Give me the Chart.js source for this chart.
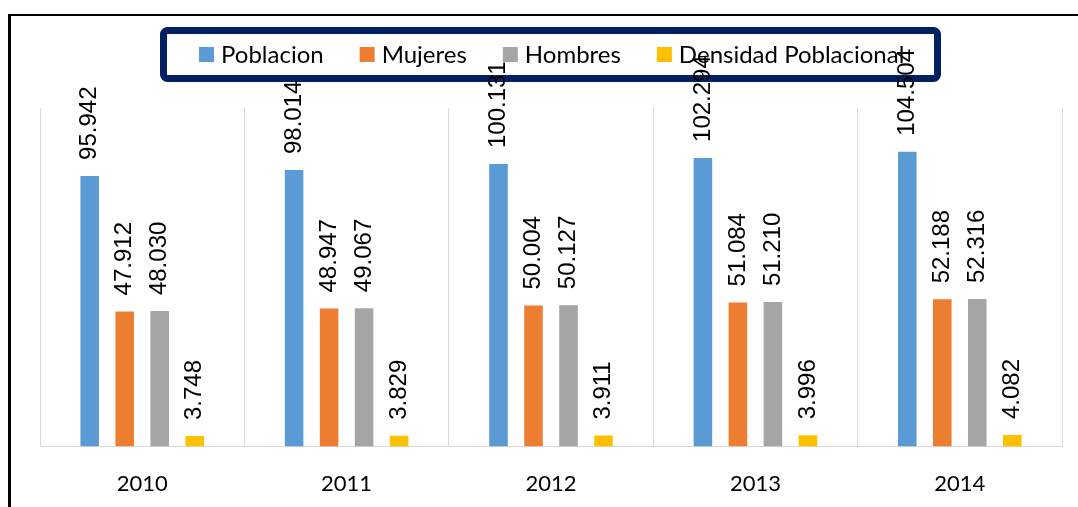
<!DOCTYPE html>
<html>
<head>
<meta charset="utf-8">
<script src="https://cdn.jsdelivr.net/npm/chart.js@4.4.0/dist/chart.umd.min.js"></script>
<style>
html,body{margin:0;padding:0;background:#fff;overflow:hidden;}
#marco{position:absolute;left:8px;top:14px;width:1100px;height:520px;border-left:3px solid #000;border-top:2px solid #000;}
#caja{position:absolute;left:0;top:0;width:1078px;height:507px;}
</style>
</head>
<body>
<div id="marco"></div>
<div id="caja"><canvas id="grafico" width="1078" height="507"></canvas></div>
<script>
// datos
const anios = ["2010", "2011", "2012", "2013", "2014"];
const poblacion = [95942, 98014, 100131, 102294, 104504];
const mujeres = [47912, 48947, 50004, 51084, 52188];
const hombres = [48030, 49067, 50127, 51210, 52316];
const densidad = [3748, 3829, 3911, 3996, 4082];
const nombres = ["Poblacion", "Mujeres", "Hombres", "Densidad Poblacional"];
const colores = ["#5B9BD5", "#ED7D31", "#A5A5A5", "#FFC000"];

function formato(v){
	return String(v).replace(/\B(?=(\d{3})+(?!\d))/g, ".");
}

// etiquetas verticales encima de cada barra
const etiquetas = {
	id: 'etiquetas',
	afterDatasetsDraw: function(chart){
		const ctx = chart.ctx;
		ctx.save();
		ctx.font = '24px "Liberation Sans"';
		ctx.fillStyle = '#000';
		ctx.textAlign = 'left';
		ctx.textBaseline = 'middle';
		chart.data.datasets.forEach(function(ds, i){
			chart.getDatasetMeta(i).data.forEach(function(barra, j){
				ctx.save();
				ctx.translate(barra.x, barra.y - 16);
				ctx.rotate(-Math.PI/2);
				ctx.fillText(formato(ds.data[j]), 0, 0);
				ctx.restore();
			});
		});
		ctx.restore();
	}
};

// leyenda con marco azul oscuro
const leyenda = {
	id: 'leyenda',
	beforeDatasetsDraw: function(chart){
		const ctx = chart.ctx;
		ctx.save();
		ctx.lineWidth = 7;
		ctx.strokeStyle = '#002060';
		ctx.beginPath();
		ctx.roundRect(163.5, 30.5, 774, 48, 4);
		ctx.stroke();
		ctx.font = '24px Lato';
		ctx.textBaseline = 'middle';
		var x = 199;
		chart.data.datasets.forEach(function(ds){
			ctx.fillStyle = ds.backgroundColor;
			ctx.fillRect(x, 47, 15, 15);
			ctx.fillStyle = '#000';
			ctx.fillText(ds.label, x + 22, 55);
			x += 22 + ctx.measureText(ds.label).width + 36;
		});
		ctx.restore();
	}
};

const series = [poblacion, mujeres, hombres, densidad];

new Chart(document.getElementById("grafico").getContext("2d"), {
	type: 'bar',
	data: {
		labels: anios,
		datasets: series.map(function(d, i){
			return {
				label: nombres[i],
				data: d,
				backgroundColor: colores[i],
				barPercentage: 0.53,
				categoryPercentage: 0.685
			};
		})
	},
	options: {
		responsive: false,
		animation: false,
		layout: { padding: { left: 40, right: 16, top: 108, bottom: -14 } },
		plugins: {
			legend: { display: false },
			tooltip: { enabled: false }
		},
		scales: {
			x: {
				grid: { display: true, color: '#d9d9d9', lineWidth: 1, drawTicks: false, offset: true },
				border: { display: true, color: '#d9d9d9' },
				ticks: { color: '#000', font: { family: 'Lato', size: 22 }, padding: 24 }
			},
			y: {
				display: false,
				min: 0,
				max: 120000
			}
		}
	},
	plugins: [leyenda, etiquetas]
});
</script>
</body>
</html>
